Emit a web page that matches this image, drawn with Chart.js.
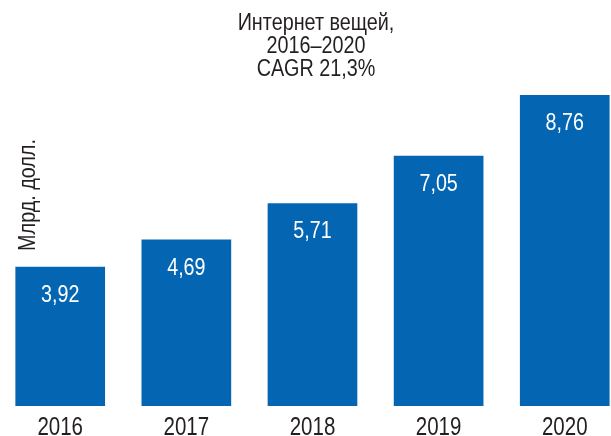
<!DOCTYPE html>
<html lang="ru">
<head>
<meta charset="utf-8">
<title>Интернет вещей, 2016–2020</title>
<script src="https://cdn.jsdelivr.net/npm/chart.js@4/dist/chart.umd.min.js"></script>
<style>
  html, body { margin: 0; padding: 0; background: #fff; overflow: hidden; }
  #wrap { position: relative; width: 611px; height: 436px; }
</style>
</head>
<body>
<div id="wrap"><canvas id="iotChart"></canvas></div>
<script>
// Данные графика
const years = ['2016', '2017', '2018', '2019', '2020'];
const values = [3.92, 4.69, 5.71, 7.05, 8.76];
const titleLines = ['Интернет вещей,', '2016–2020', 'CAGR 21,3%'];
const axisLabel = 'Млрд. долл.';

const FONT = '"Liberation Sans", Arial, sans-serif';
const NARROW = 0.82; // сжатие шрифта по горизонтали (как у узкого начертания)
const TEXT_COLOR = '#231f20';
const BAR_COLOR = '#0466b3';

// число с запятой (3.92 -> 3,92)
const formatNum = (n) => n.toFixed(2).replace('.', ',');

// узкий текст: сжимаем по X вокруг точки привязки
function narrowText(ctx, text, x, y, k = NARROW) {
    ctx.save();
    ctx.translate(x, y);
    ctx.scale(k, 1);
    ctx.fillText(text, 0, 0);
    ctx.restore();
}

// Заголовок, подпись оси, годы и значения внутри столбиков
const textPlugin = {
    id: 'textPlugin',
    afterDatasetsDraw(chart) {
        const ctx = chart.ctx;
        ctx.save();
        ctx.textAlign = 'center';

        // заголовок
        ctx.fillStyle = TEXT_COLOR;
        ctx.font = '23px ' + FONT;
        ctx.textBaseline = 'alphabetic';
        const baselines = [29.5, 53, 76];
        titleLines.forEach((line, i) => narrowText(ctx, line, 316, baselines[i], 0.86));

        // подпись оси Y (вертикально)
        ctx.save();
        ctx.translate(35, 195);
        ctx.rotate(-Math.PI / 2);
        narrowText(ctx, axisLabel, 0, 0, 0.86);
        ctx.restore();

        // годы под столбиками
        const xScale = chart.scales.x;
        ctx.font = '25px ' + FONT;
        years.forEach((y, i) => {
            narrowText(ctx, y, xScale.getPixelForValue(i), 435);
        });

        // значения
        ctx.fillStyle = '#fff';
        ctx.font = '24px ' + FONT;
        const meta = chart.getDatasetMeta(0);
        meta.data.forEach((bar, i) => {
            narrowText(ctx, formatNum(values[i]), bar.x, bar.y + 35);
        });
        ctx.restore();
    }
};

window.onload = function() {
    const ctx = document.getElementById('iotChart').getContext('2d');

    new Chart(ctx, {
        type: 'bar',
        data: {
            datasets: [{
                data: values.map((v, i) => ({ x: i, y: v })),
                backgroundColor: BAR_COLOR,
                borderWidth: 0,
                barPercentage: 0.711,
                categoryPercentage: 1
            }]
        },
        options: {
            responsive: true,
            maintainAspectRatio: false,
            animation: false,
            layout: { padding: { top: 51, bottom: 30, left: 0, right: 0 } },
            plugins: {
                legend: { display: false },
                tooltip: { enabled: false }
            },
            scales: {
                x: {
                    type: 'linear',
                    offset: false,
                    min: -0.4774,
                    max: 4.3667,
                    display: false,
                    // деления только на годах, иначе ширина столбиков считается от края
                    afterBuildTicks: (scale) => {
                        scale.ticks = years.map((y, i) => ({ value: i }));
                    }
                },
                y: {
                    display: false,
                    min: 0,
                    max: 10
                }
            }
        },
        plugins: [textPlugin]
    });
};
</script>
</body>
</html>
